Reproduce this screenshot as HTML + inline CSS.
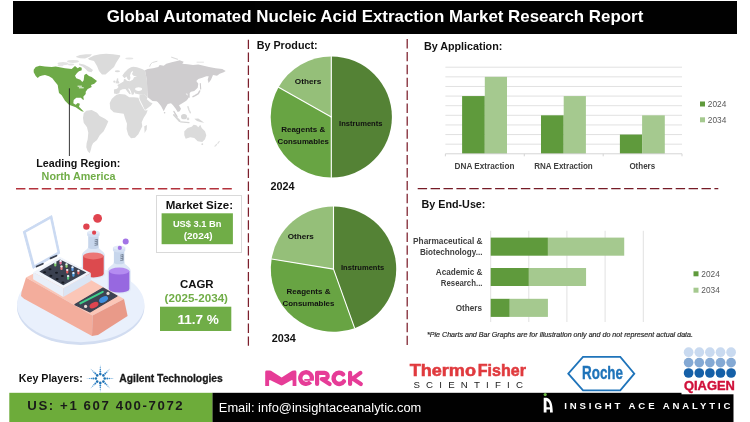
<!DOCTYPE html>
<html><head><meta charset="utf-8">
<style>
html,body{margin:0;padding:0;background:#fff;}
body{width:750px;height:422px;overflow:hidden;font-family:"Liberation Sans",sans-serif;}
svg{display:block;will-change:transform;opacity:0.999}
text{font-family:"Liberation Sans",sans-serif;}
.b{font-weight:700}
.g{fill:#70ad47}
.lbl{font-size:8.3px;font-weight:700;fill:#404040}
.pl{font-size:7.6px;font-weight:700;fill:#111}
</style></head><body>
<svg width="750" height="422" viewBox="0 0 750 422">
<!-- HEADER -->
<rect x="13" y="1" width="724" height="33" fill="#000"/>
<text x="375" y="22.1" text-anchor="middle" class="b" font-size="16.9" fill="#fff">Global Automated Nucleic Acid Extraction Market Research Report</text>

<!-- DASHED SEPARATORS -->
<g fill="none" stroke-dasharray="9.4 3.5">
<line x1="248.4" y1="39.7" x2="248.4" y2="345.8" stroke="#7d1f2c" stroke-width="1.25"/>
<line x1="407.2" y1="39" x2="407.2" y2="345.3" stroke="#7d1f2c" stroke-width="1.25"/>
<line x1="16" y1="188.8" x2="232.1" y2="188.8" stroke="#b3323c" stroke-width="1.6"/>
<line x1="417.7" y1="188.6" x2="718.3" y2="188.6" stroke="#761b26" stroke-width="1.35"/>
</g>

<!-- MAP -->
<g id="map">
<g stroke-linejoin="round">
<ellipse cx="63" cy="63.6" rx="5.5" ry="1.7" fill="#e3e3e3"/>
<ellipse cx="73" cy="61.4" rx="6" ry="1.5" fill="#e3e3e3"/>
<ellipse cx="60.5" cy="65.4" rx="3" ry="0.9" fill="#e6e6e6"/>
<ellipse cx="71" cy="64.6" rx="3.2" ry="1" fill="#e3e3e3"/>
<path d="M79 63.5L84 64.5L89 67L93 70L91.5 72.3L88 71.5L85.5 69L82.5 66.5L79 65Z" fill="#dddddd"/>
<path d="M76 56.5L80 55L86 54.3L92 54.2L90 56.5L85 58.5L80 58.3L76.5 57.3Z" fill="#dedede"/>
<path d="M88 58.5L94 55.5L100 54.3L106 53.8L113 54.2L120 55.2L120.3 56.2L116 63L114 67L110 70.5L105.5 74.5L102 74.5L99 71L97 66L94 61L89 59.8Z" fill="#dbdbdb"/>
<ellipse cx="117.4" cy="71.3" rx="2.6" ry="1" fill="#dbdbdb"/>
<ellipse cx="129.3" cy="58.5" rx="4" ry="0.9" fill="#e6e6e6"/>
<path d="M115.5 83.2L116.5 80.5L117 78.2L118.3 78.5L118.2 80.5L119.4 82.5L118.8 83.5Z" fill="#dbdbdb" />
<ellipse cx="114.4" cy="81.6" rx="1.1" ry="1.2" fill="#dbdbdb"/>
<path d="M122.3 75.7L124.5 72.5L128 69L131 67.2L133.2 66.8L137 67.3L142 68.9L145 70.5L146.9 80.1L147.3 90.5L147.5 97.3L143.6 94L139.6 94.4L135 93.4L134.8 91.8L133.5 94.5L131.8 94.8L131 91.5L129.5 88.8L128 88.5L129.8 91.5L130.8 94L129.6 94.3L127.3 91.5L125.5 89L122.5 89.2L120 90.5L119.3 93.2L116.5 94L114 93.5L113.9 89.5L117 88.8L118.5 87L117.3 85L121 83L123.5 81.5L124 79L125.5 79.3L127 80.8L130 81.3L133 79.5L134 77.2L137 76.5L133.5 75.8L132 74L133 71.8L132.5 71L131 72.5L130 75.5L130.5 78L129.3 80.8L127.5 79L126.5 76.5L124.5 78.3Z" fill="#dbdbdb" />
<ellipse cx="138.6" cy="89.1" rx="3.5" ry="1.8" fill="#fff"/>
<path d="M147.5 97.3L146.8 99.2L150.1 102.3L152.5 103.3L151 105.5L145.5 109.8L144.6 109.5L142.5 105L140.5 101L139.4 98.5L139.6 94.4L143.6 94Z" fill="#dbdbdb" />
<path d="M114.3 96.5L116.5 94.8L119.5 94.1L125.1 94.5L129.2 97.3L134 97.3L138.4 97.7L139.5 101L141.5 105L143.5 108.5L144.8 110.5L147.7 110.3L146.3 113.7L143.7 117.7L141.7 122.3L142.3 126.3L140.3 130.3L138.3 134.3L135 137.7L131 138.3L128.3 135L126.6 129L127 123.7L125 118.3L123.7 113.7L118.3 113L113.7 112.3L110.3 109L109.7 103L111.7 99Z" fill="#dbdbdb" />
<path d="M144.3 126.3L147 125L146.6 129.7L144.6 133Z" fill="#dbdbdb" />
<path d="M83.7 113.3L86.3 110.7L91.7 110L97 112.7L99.7 116L105 118.7L108.3 121.3L106.3 126L103.7 131.3L99.7 135.3L97 140L93 143.3L91.7 146L91 149.3L89.7 153.3L87.7 151.3L86.3 147.3L86.6 143.3L87.7 139.3L88.3 132.7L87 127.3L83.7 122.7L83 118Z" fill="#dbdbdb" />
<path d="M145 70.3L147.7 69L153 68.3L158.3 67L159.7 65L163.7 65.7L166.3 63.7L171.7 62.3L177 61L179.7 60.3L183.7 61.7L182.3 63.7L187.7 64.3L193 65L198.3 64.5L203.7 65.7L209 67L215.7 68.3L222.3 69L225.7 71L223.7 72.3L219.7 73.7L217 75.7L213 75L211 79.7L208.6 83L207.7 79.7L208.7 76.3L206.3 76.3L202.3 77.7L198.3 79L196.3 81L198.3 83.7L197.7 87.7L194.3 91L191 91.7L189.7 93L189.7 97.7L187.7 97.7L187.4 93.7L185.7 93.5L187.7 96L188.3 98.5L186.3 100.7L182.3 103.3L179 105.3L181 108.7L179.7 111.3L177.7 112L175.7 108.7L173 105.3L171 103.3L167.7 104L165.7 107.3L163.7 111.3L161 106L157.7 102L156.5 101.3L152.5 100.9L147.7 97.3L147.3 90.5L146.9 80.1Z" fill="#cfcdcf" />
<g fill="none" stroke="#cfcdcf" stroke-linecap="round">
<path d="M200.3 83.5L200.7 89" stroke-width="1.1"/>
<path d="M199.7 91L198.3 93.7L195 95.7L193 96.7" stroke-width="1.5"/>
<path d="M149.7 66.3Q150.2 63.5 152.5 62.5L157 61.3" stroke-width="1" stroke="#dcdcdc"/>
<path d="M171.7 57.2L177.5 59.2" stroke-width="1.2" stroke="#dcdcdc"/>
<path d="M197 62.2H203.5" stroke-width="0.9" stroke="#e2e2e2"/>
<path d="M173.9 111.5L177 116.7" stroke-width="1.4"/>
<path d="M173.9 114.9L179.6 121" stroke-width="1.9" stroke="#d6d6d6"/>
<path d="M180.6 121.8L189 122.7" stroke-width="1.2" stroke="#d6d6d6"/>
<path d="M188 106.7L189 110L190.3 112.7" stroke-width="1.5" stroke="#dedede"/>
</g>
<ellipse cx="184" cy="116.7" rx="3" ry="2.6" fill="#d6d6d6"/>
<circle cx="188" cy="118.9" r="1.3" fill="#dcdcdc"/>
<circle cx="164.6" cy="112.7" r="0.8" fill="#cfcdcf"/>
<path d="M194.3 118.7L198.3 118.5L204.3 122.7L201 122.2L197 120.9Z" fill="#d8d8d8" />
<path d="M184.3 131.3L187.7 128L191.7 126.7L193.7 124.7L196.3 125.3L198.3 127.3L200.3 124.7L201.7 128L205 131.3L206.3 135.3L205 139.3L202.3 142L197.7 141.3L194.3 138L190.3 137.3L185.7 138.7L184.3 135.3Z" fill="#dbdbdb" />
<circle cx="202.3" cy="144.2" r="0.9" fill="#dbdbdb"/>
<path d="M219.2 141.5L217.8 143.3M216.6 144.5L215 146.2" stroke="#e0e0e0" stroke-width="1.2" stroke-linecap="round"/>
<path d="M33.7 69.7L35.7 67L39.7 65.7L45 66.6L51.7 67L55.7 66.6L65 68.3L71.7 69L75 66.1L77.7 68.3L79.7 67L81.7 67.7L81.7 70.3L79 71.3L77 73L75 75.7L76.3 78.3L80.3 79.7L82.3 81.9L83.7 80.3L84.3 75L86.3 73.7L89 75.9L91.7 77L94.3 79L97 81L94.3 83.7L91 85L91.7 87L87.7 89L85.7 91.7L85.7 94L83.3 96.7L83.9 100L82.3 99.3L81 97.7L76.3 97.7L73.7 100L73.3 103.3L75.7 104.7L77.7 103.1L79.9 103.7L79 106.7L81 108.7L83.9 111.7L81.7 111.3L79.7 110L75.7 107.3L71.7 105.7L69 104.7L65 100.7L61.7 95.3L59 93L58.3 89L57.7 85L55 81.7L52.3 78.3L49 76.3L45 75L42.3 75.4L39.7 76.3L37.7 77.9L35.7 75.9L33.7 72.3Z" fill="#6eaa48" />
<path d="M78 86.2H81.5M79.3 87.8H83.3" stroke="#fff" stroke-width="0.9" stroke-linecap="round"/>
</g>
</g>
<line x1="69.4" y1="88.3" x2="69.4" y2="156" stroke="#222" stroke-width="0.9"/>
<text x="36.3" y="166.7" class="b" font-size="10.7" fill="#111" textLength="84" lengthAdjust="spacingAndGlyphs">Leading Region:</text>
<text x="41.6" y="179.6" class="b g" font-size="10.7" textLength="73.9" lengthAdjust="spacingAndGlyphs">North America</text>

<!-- LAB ILLUSTRATION -->
<g id="lab">
<ellipse cx="80.7" cy="307" rx="63.7" ry="38" fill="#d2ddf1"/>
<ellipse cx="80.7" cy="304.6" rx="63.7" ry="37.6" fill="#e9f0fc"/>
<path d="M88.2 246.5C88.2 250.5 81.8 250.5 81.8 256V274.5A11.6 4 0 0 0 105.0 274.5V256C105.0 250.5 98.6 250.5 98.6 246.5Z" fill="#dde7f6"/>
<path d="M83.1 255.9V273.8A10.3 3.6 0 0 0 103.7 273.8V255.9Z" fill="#dc4a4e"/>
<ellipse cx="93.4" cy="255.9" rx="10.3" ry="3.5" fill="#ec7676"/>
<path d="M88.2 234V247.3A5.2 1.8 0 0 0 98.6 247.3V234Z" fill="#c7d6ec"/>
<path d="M87.2 232.4V235.2A6.2 2 0 0 0 99.6 235.2V232.4Z" fill="#d3dff2"/>
<ellipse cx="93.4" cy="232.4" rx="6.2" ry="2" fill="#e3ebf8"/>
<path d="M94.6 240l2.6 -0.6M94.6 241.8l2.6 -0.6M94.6 243.6l2.6 -0.6M94.6 245.4l2.6 -0.6M97.3 239v6.4" stroke="#4a5568" stroke-width="0.6" fill="none"/>
<circle cx="94.1" cy="232.7" r="2.1" fill="#e0444f"/>
<path d="M113.9 261.7C113.9 265.7 107.5 265.7 107.5 271.2V289.7A11.6 4 0 0 0 130.7 289.7V271.2C130.7 265.7 124.3 265.7 124.3 261.7Z" fill="#dde7f6"/>
<path d="M108.8 271.1V289.0A10.3 3.6 0 0 0 129.4 289.0V271.1Z" fill="#9768e0"/>
<ellipse cx="119.1" cy="271.1" rx="10.3" ry="3.5" fill="#b48cf1"/>
<path d="M113.9 249.2V262.5A5.2 1.8 0 0 0 124.3 262.5V249.2Z" fill="#c7d6ec"/>
<path d="M112.9 247.6V250.4A6.2 2 0 0 0 125.3 250.4V247.6Z" fill="#d3dff2"/>
<ellipse cx="119.1" cy="247.6" rx="6.2" ry="2" fill="#e3ebf8"/>
<path d="M120.3 255.2l2.6 -0.6M120.3 257.0l2.6 -0.6M120.3 258.8l2.6 -0.6M120.3 260.6l2.6 -0.6M123.0 254.2v6.4" stroke="#4a5568" stroke-width="0.6" fill="none"/>
<circle cx="119.8" cy="247.9" r="2.1" fill="#a374e6"/>
<circle cx="97.6" cy="218.3" r="4.4" fill="#e0444f"/><circle cx="86.4" cy="226.6" r="3.2" fill="#e0444f"/>
<circle cx="125.7" cy="241.5" r="3" fill="#a374e6"/>
<path d="M26 277.5L57.5 261L124 299L92.5 315.5Z" fill="#fbc6b7" />
<path d="M26 277.5L92.5 315.5L92 336L24 298.8L21 296L21.5 292Z" fill="#f3ad9c" />
<path d="M92.5 315.5L124 299L127.6 316L98 335L92 336Z" fill="#e99a89" />
<path d="M33.1 272.2L63.3 288.2L63.3 297.1L33.1 279.3Z" fill="#e9eff9" />
<path d="M63.3 288.2L90.8 273.1L90.8 281.1L63.3 297.1Z" fill="#dbe5f4" />
<path d="M33.1 272.2L59.8 256.8L90.8 273.1L63.3 288.2Z" fill="#f0f4fb" />
<path d="M39.3 271.6L60 259.6L86.4 272.6L63.3 285.3Z" fill="#3b4150" />
<ellipse cx="44.6" cy="272.2" rx="1.5" ry="1" fill="#15181f"/>
<ellipse cx="50" cy="269.2" rx="1.5" ry="1" fill="#15181f"/>
<ellipse cx="50.9" cy="275.8" rx="1.5" ry="1" fill="#15181f"/>
<ellipse cx="56.5" cy="272.7" rx="1.5" ry="1" fill="#15181f"/>
<ellipse cx="57.1" cy="279" rx="1.5" ry="1" fill="#15181f"/>
<ellipse cx="62.4" cy="276.1" rx="1.5" ry="1" fill="#15181f"/>
<ellipse cx="62.9" cy="282.5" rx="1.5" ry="1" fill="#15181f"/>
<rect x="54.199999999999996" y="262.0" width="2.2" height="4.4" rx="1" fill="#7fcf6a"/><rect x="54.199999999999996" y="261.8" width="2.2" height="2" rx="0.8" fill="#e6edf7"/>
<rect x="59.5" y="260.2" width="2.2" height="4.4" rx="1" fill="#e8719a"/><rect x="59.5" y="260.0" width="2.2" height="2" rx="0.8" fill="#e6edf7"/>
<rect x="65.4" y="263.40000000000003" width="2.2" height="4.4" rx="1" fill="#8ecf6a"/><rect x="65.4" y="263.20000000000005" width="2.2" height="2" rx="0.8" fill="#e6edf7"/>
<rect x="60.4" y="265.6" width="2.2" height="4.4" rx="1" fill="#ee7b7b"/><rect x="60.4" y="265.40000000000003" width="2.2" height="2" rx="0.8" fill="#e6edf7"/>
<rect x="71.4" y="266.5" width="2.2" height="4.4" rx="1" fill="#5b9be6"/><rect x="71.4" y="266.3" width="2.2" height="2" rx="0.8" fill="#e6edf7"/>
<rect x="66.10000000000001" y="269.1" width="2.2" height="4.4" rx="1" fill="#e55d5d"/><rect x="66.10000000000001" y="268.90000000000003" width="2.2" height="2" rx="0.8" fill="#e6edf7"/>
<rect x="77.30000000000001" y="270.0" width="2.2" height="4.4" rx="1" fill="#e55d5d"/><rect x="77.30000000000001" y="269.8" width="2.2" height="2" rx="0.8" fill="#e6edf7"/>
<rect x="72.30000000000001" y="272.3" width="2.2" height="4.4" rx="1" fill="#4f9fe0"/><rect x="72.30000000000001" y="272.1" width="2.2" height="2" rx="0.8" fill="#e6edf7"/>
<rect x="67.0" y="275.3" width="2.2" height="4.4" rx="1" fill="#58c77a"/><rect x="67.0" y="275.1" width="2.2" height="2" rx="0.8" fill="#e6edf7"/>
<path d="M23.3 231.6L51.7 215.6L59.7 253.3L33.1 268.4Z" fill="#cbdaf2" stroke="#cbdaf2" stroke-width="1" stroke-linejoin="round"/>
<path d="M25.9 232.6L50.2 218.9L57.4 252.1L34.6 265.1Z" fill="#ffffff" />
<path d="M36.6 266.6L42.9 263.7M50.5 258.4L56.5 255.7" stroke="#3b4150" stroke-width="1.7" stroke-linecap="round"/>
<path d="M75 304.6L103 288L117 296L90 312Z" fill="#3d4352" stroke="#3d4352" stroke-width="1.2" stroke-linejoin="round"/>
<path d="M80.3 303.4L102.8 291.8" stroke="#3fd08a" stroke-width="1.9" stroke-linecap="round"/>
<ellipse cx="94" cy="305.1" rx="4.8" ry="2.7" fill="#e0444f" transform="rotate(-27 94 305.1)"/>
<ellipse cx="103.6" cy="299.5" rx="4.8" ry="2.7" fill="#3f8fe0" transform="rotate(-27 103.6 299.5)"/>
<circle cx="85.6" cy="306.4" r="1.6" fill="#e8dcd6"/><circle cx="108" cy="293.4" r="1.6" fill="#e8dcd6"/>
</g>

<!-- MARKET SIZE -->
<rect x="156.5" y="195.5" width="85" height="57" fill="#fff" stroke="#d9d9d9" stroke-width="1"/>
<text x="165.7" y="208.6" class="b" font-size="11.6" fill="#111" textLength="67.3" lengthAdjust="spacingAndGlyphs">Market Size:</text>
<rect x="161.6" y="213.3" width="71.3" height="30.9" fill="#70ad47"/>
<text x="197.2" y="226.5" text-anchor="middle" class="b" font-size="9.4" fill="#fff" textLength="48.6" lengthAdjust="spacingAndGlyphs">US$ 3.1 Bn</text>
<text x="198.2" y="239.3" text-anchor="middle" class="b" font-size="9.4" fill="#fff" textLength="29" lengthAdjust="spacingAndGlyphs">(2024)</text>

<!-- CAGR -->
<text x="179.9" y="287.9" class="b" font-size="11.5" fill="#111" textLength="33.7" lengthAdjust="spacingAndGlyphs">CAGR</text>
<text x="164.6" y="302.3" class="b g" font-size="11.4" textLength="63.4" lengthAdjust="spacingAndGlyphs">(2025-2034)</text>
<rect x="160" y="306.7" width="71.3" height="24.3" fill="#70ad47"/>
<text x="177.4" y="323.9" class="b" font-size="13" fill="#fff" textLength="41.4" lengthAdjust="spacingAndGlyphs">11.7 %</text>

<!-- PIES -->
<g id="pies">
<path d="M331.3 117L331.30 56.40A60.6 60.6 0 0 1 331.30 177.60Z" fill="#548235"/>
<path d="M331.3 117L331.30 177.60A60.6 60.6 0 0 1 278.56 87.16Z" fill="#68a443"/>
<path d="M331.3 117L278.56 87.16A60.6 60.6 0 0 1 331.30 56.40Z" fill="#95bf79"/>
<g stroke="#fff" stroke-width="1.1" stroke-linecap="round">
<line x1="331.3" y1="117" x2="331.30" y2="56.40"/>
<line x1="331.3" y1="117" x2="331.30" y2="177.60"/>
<line x1="331.3" y1="117" x2="278.56" y2="87.16"/>
</g>
<text class="pl" x="308.1" y="83.6" text-anchor="middle" textLength="26.5" lengthAdjust="spacingAndGlyphs">Others</text>
<text class="pl" x="360.8" y="125.5" text-anchor="middle" textLength="43.4" lengthAdjust="spacingAndGlyphs">Instruments</text>
<text class="pl" x="303.2" y="132.3" text-anchor="middle" textLength="44" lengthAdjust="spacingAndGlyphs">Reagents &amp;</text>
<text class="pl" x="303.2" y="144" text-anchor="middle" textLength="51.4" lengthAdjust="spacingAndGlyphs">Consumables</text>
<text x="270.4" y="190.2" class="b" font-size="10.8" fill="#111">2024</text>
<path d="M333.5 269.1L333.50 206.40A62.7 62.7 0 0 1 354.64 328.13Z" fill="#548235"/>
<path d="M333.5 269.1L354.64 328.13A62.7 62.7 0 0 1 271.61 259.08Z" fill="#68a443"/>
<path d="M333.5 269.1L271.61 259.08A62.7 62.7 0 0 1 333.50 206.40Z" fill="#95bf79"/>
<g stroke="#fff" stroke-width="1.1" stroke-linecap="round">
<line x1="333.5" y1="269.1" x2="333.50" y2="206.40"/>
<line x1="333.5" y1="269.1" x2="354.64" y2="328.13"/>
<line x1="333.5" y1="269.1" x2="271.61" y2="259.08"/>
</g>
<text class="pl" x="300.8" y="238.6" text-anchor="middle" textLength="26.2" lengthAdjust="spacingAndGlyphs">Others</text>
<text class="pl" x="362.6" y="270.3" text-anchor="middle" textLength="43.2" lengthAdjust="spacingAndGlyphs">Instruments</text>
<text class="pl" x="308.5" y="293.7" text-anchor="middle" textLength="43.8" lengthAdjust="spacingAndGlyphs">Reagents &amp;</text>
<text class="pl" x="308.5" y="305.5" text-anchor="middle" textLength="51.8" lengthAdjust="spacingAndGlyphs">Consumables</text>
<text x="271.7" y="341.7" class="b" font-size="10.8" fill="#111">2034</text>
</g>

<!-- BAR CHARTS -->
<g id="bars">
<text x="256.7" y="48.5" class="b" font-size="10.75" fill="#111">By Product:</text>
<text x="423.9" y="49.6" class="b" font-size="10.75" fill="#111">By Application:</text>
<text x="421.5" y="208.4" class="b" font-size="10.75" fill="#111">By End-Use:</text>
<g stroke="#d9d9d9" stroke-width="0.8">
<line x1="445.4" y1="144.18" x2="682" y2="144.18"/>
<line x1="445.4" y1="134.56" x2="682" y2="134.56"/>
<line x1="445.4" y1="124.94" x2="682" y2="124.94"/>
<line x1="445.4" y1="115.32" x2="682" y2="115.32"/>
<line x1="445.4" y1="105.70" x2="682" y2="105.70"/>
<line x1="445.4" y1="96.08" x2="682" y2="96.08"/>
<line x1="445.4" y1="86.46" x2="682" y2="86.46"/>
<line x1="445.4" y1="76.84" x2="682" y2="76.84"/>
<line x1="445.4" y1="67.22" x2="682" y2="67.22"/>
</g>
<rect x="462.1" y="96.08" width="22.70" height="57.72" fill="#5f9a3c"/>
<rect x="484.8" y="76.84" width="22.20" height="76.96" fill="#a5c98f"/>
<rect x="541" y="115.32" width="22.70" height="38.48" fill="#5f9a3c"/>
<rect x="563.7" y="96.08" width="22.20" height="57.72" fill="#a5c98f"/>
<rect x="619.9" y="134.56" width="22.20" height="19.24" fill="#5f9a3c"/>
<rect x="642.1" y="115.32" width="22.70" height="38.48" fill="#a5c98f"/>
<path d="M445.4 153.8H682M445.4 153.8v2.5M524.3 153.8v2.5M603.2 153.8v2.5M682 153.8v2.5" stroke="#d0d0d0" stroke-width="0.9" fill="none"/>
<text class="lbl" x="484.5" y="168.8" text-anchor="middle" textLength="59.8" lengthAdjust="spacingAndGlyphs">DNA Extraction</text>
<text class="lbl" x="563.5" y="168.8" text-anchor="middle" textLength="58.5" lengthAdjust="spacingAndGlyphs">RNA Extraction</text>
<text class="lbl" x="642.3" y="168.8" text-anchor="middle" textLength="25.8" lengthAdjust="spacingAndGlyphs">Others</text>
<rect x="700" y="101.5" width="5" height="5" fill="#5f9a3c"/><rect x="700" y="117.3" width="5" height="5" fill="#a5c98f"/>
<text x="707.8" y="107" font-size="8.3" fill="#595959">2024</text><text x="707.8" y="122.8" font-size="8.3" fill="#595959">2034</text>
<g stroke="#d9d9d9" stroke-width="0.8">
<line x1="490.7" y1="230.8" x2="490.7" y2="322"/>
<line x1="528.8" y1="230.8" x2="528.8" y2="322"/>
<line x1="566.9" y1="230.8" x2="566.9" y2="322"/>
<line x1="605.1" y1="230.8" x2="605.1" y2="322"/>
<line x1="643.3" y1="230.8" x2="643.3" y2="322"/>
</g>
<rect x="490.7" y="237.6" width="57.22" height="18.10" fill="#5f9a3c"/><rect x="547.92" y="237.6" width="76.30" height="18.10" fill="#a5c98f"/>
<rect x="490.7" y="268" width="38.15" height="18.00" fill="#5f9a3c"/><rect x="528.85" y="268" width="57.22" height="18.00" fill="#a5c98f"/>
<rect x="490.7" y="298.8" width="19.07" height="18.10" fill="#5f9a3c"/><rect x="509.77" y="298.8" width="38.15" height="18.10" fill="#a5c98f"/>
<text class="lbl" x="482.5" y="243.8" text-anchor="end" textLength="69.4" lengthAdjust="spacingAndGlyphs">Pharmaceutical &amp;</text>
<text class="lbl" x="482.5" y="254.8" text-anchor="end" textLength="62.6" lengthAdjust="spacingAndGlyphs">Biotechnology...</text>
<text class="lbl" x="482.5" y="274.5" text-anchor="end" textLength="46.7" lengthAdjust="spacingAndGlyphs">Academic &amp;</text>
<text class="lbl" x="482.5" y="285.5" text-anchor="end" textLength="41.7" lengthAdjust="spacingAndGlyphs">Research...</text>
<text class="lbl" x="482.0" y="310.8" text-anchor="end" textLength="26.3" lengthAdjust="spacingAndGlyphs">Others</text>
<rect x="693.5" y="271.3" width="5" height="5" fill="#5f9a3c"/><rect x="693.5" y="287.7" width="5" height="5" fill="#a5c98f"/>
<text x="701.3" y="276.8" font-size="8.3" fill="#595959">2024</text><text x="701.3" y="293.2" font-size="8.3" fill="#595959">2034</text>
<text x="427" y="337" font-size="6.3" font-style="italic" fill="#2a2a2a" stroke="#2a2a2a" stroke-width="0.18" textLength="266" lengthAdjust="spacingAndGlyphs">*Pie Charts and Bar Graphs are for illustration only and do not represent actual data.</text>
</g>

<!-- KEY PLAYERS -->
<g id="players">
<text x="18.8" y="381.9" class="b" font-size="10.66" fill="#111">Key Players:</text>
<g id="spark">
<circle cx="104.70" cy="378.50" r="1.3" fill="#1f72b4"/>
<circle cx="107.30" cy="378.50" r="0.95" fill="#2a7fc4"/>
<circle cx="109.30" cy="378.50" r="0.75" fill="#3d8ccc"/>
<circle cx="111.10" cy="378.50" r="0.6" fill="#5b9fd6"/>
<circle cx="112.60" cy="378.50" r="0.45" fill="#7ab2df"/>
<circle cx="113.70" cy="378.50" r="0.32" fill="#9cc6e8"/>
<circle cx="103.41" cy="381.61" r="1.3" fill="#1f72b4"/>
<circle cx="105.25" cy="383.45" r="0.95" fill="#2a7fc4"/>
<circle cx="106.66" cy="384.86" r="0.75" fill="#3d8ccc"/>
<circle cx="107.94" cy="386.14" r="0.6" fill="#5b9fd6"/>
<circle cx="109.00" cy="387.20" r="0.45" fill="#7ab2df"/>
<circle cx="109.78" cy="387.98" r="0.32" fill="#9cc6e8"/>
<circle cx="100.30" cy="382.90" r="1.3" fill="#1f72b4"/>
<circle cx="100.30" cy="385.50" r="0.95" fill="#2a7fc4"/>
<circle cx="100.30" cy="387.50" r="0.75" fill="#3d8ccc"/>
<circle cx="100.30" cy="389.30" r="0.6" fill="#5b9fd6"/>
<circle cx="100.30" cy="390.80" r="0.45" fill="#7ab2df"/>
<circle cx="100.30" cy="391.90" r="0.32" fill="#9cc6e8"/>
<circle cx="97.19" cy="381.61" r="1.3" fill="#1f72b4"/>
<circle cx="95.35" cy="383.45" r="0.95" fill="#2a7fc4"/>
<circle cx="93.94" cy="384.86" r="0.75" fill="#3d8ccc"/>
<circle cx="92.66" cy="386.14" r="0.6" fill="#5b9fd6"/>
<circle cx="91.60" cy="387.20" r="0.45" fill="#7ab2df"/>
<circle cx="90.82" cy="387.98" r="0.32" fill="#9cc6e8"/>
<circle cx="95.90" cy="378.50" r="1.3" fill="#1f72b4"/>
<circle cx="93.30" cy="378.50" r="0.95" fill="#2a7fc4"/>
<circle cx="91.30" cy="378.50" r="0.75" fill="#3d8ccc"/>
<circle cx="89.50" cy="378.50" r="0.6" fill="#5b9fd6"/>
<circle cx="88.00" cy="378.50" r="0.45" fill="#7ab2df"/>
<circle cx="86.90" cy="378.50" r="0.32" fill="#9cc6e8"/>
<circle cx="97.19" cy="375.39" r="1.3" fill="#1f72b4"/>
<circle cx="95.35" cy="373.55" r="0.95" fill="#2a7fc4"/>
<circle cx="93.94" cy="372.14" r="0.75" fill="#3d8ccc"/>
<circle cx="92.66" cy="370.86" r="0.6" fill="#5b9fd6"/>
<circle cx="91.60" cy="369.80" r="0.45" fill="#7ab2df"/>
<circle cx="90.82" cy="369.02" r="0.32" fill="#9cc6e8"/>
<circle cx="100.30" cy="374.10" r="1.3" fill="#1f72b4"/>
<circle cx="100.30" cy="371.50" r="0.95" fill="#2a7fc4"/>
<circle cx="100.30" cy="369.50" r="0.75" fill="#3d8ccc"/>
<circle cx="100.30" cy="367.70" r="0.6" fill="#5b9fd6"/>
<circle cx="100.30" cy="366.20" r="0.45" fill="#7ab2df"/>
<circle cx="100.30" cy="365.10" r="0.32" fill="#9cc6e8"/>
<circle cx="103.41" cy="375.39" r="1.3" fill="#1f72b4"/>
<circle cx="105.25" cy="373.55" r="0.95" fill="#2a7fc4"/>
<circle cx="106.66" cy="372.14" r="0.75" fill="#3d8ccc"/>
<circle cx="107.94" cy="370.86" r="0.6" fill="#5b9fd6"/>
<circle cx="109.00" cy="369.80" r="0.45" fill="#7ab2df"/>
<circle cx="109.78" cy="369.02" r="0.32" fill="#9cc6e8"/>
</g>
<text x="119.3" y="382.4" class="b" font-size="11" fill="#1a1a1a" stroke="#1a1a1a" stroke-width="0.3" textLength="103.5" lengthAdjust="spacingAndGlyphs">Agilent Technologies</text>
<g id="merck" fill="none" stroke="#e63c97" stroke-linejoin="round" stroke-linecap="round">
<path fill="#e63c97" stroke="none" d="M265.2 386V372Q265.2 370.6 266.8 370.6H269.5Q271 370.6 272.5 371.8L281.6 377.6L291 371.6Q292.3 370.6 294 370.6H295Q296.4 370.6 296.4 372V386H292.6V381Q292.6 379.5 291.4 380.3L283 385Q281.6 385.8 280.2 385L270.5 380.2Q269.1 379.5 269.1 381V386Z"/>
<path stroke-width="4.3" stroke-linecap="butt" d="M310.47 381.87A5.8 5.8 0 1 1 311.7 379.5"/>
<path stroke-width="1.7" stroke-linecap="butt" d="M304.3 379.9H313.8"/>
<path stroke-width="4.2" d="M317.1 372.8V384M317.1 372.8H324.6A3.1 3.1 0 0 1 324.6 379H321.8L329.6 384"/>
<path stroke-width="4.5" d="M343.09 374.27A5.6 5.6 0 1 0 343.90 381.35"/>
<path stroke-width="4.2" d="M350.1 372.8V384M360.4 372.9L352.6 378.6L360.8 384"/>
</g>
<text x="409.7" y="375.5" class="b" font-size="16.6" fill="#e03a3e" stroke="#e03a3e" stroke-width="0.55" textLength="66.3" lengthAdjust="spacingAndGlyphs">Thermo</text>
<text x="477.8" y="375.5" class="b" font-size="16.6" fill="#e03a3e" stroke="#e03a3e" stroke-width="0.55" textLength="48.2" lengthAdjust="spacingAndGlyphs">Fisher</text>
<text x="413.4" y="387.7" font-size="9.7" fill="#222" letter-spacing="6.2">SCIENTIFIC</text>
<path d="M568.3 373.7L583 356.9H620.3L634.3 373.7L620.3 390.4H583Z" fill="#fff" stroke="#1f74ba" stroke-width="1.8" stroke-linejoin="miter"/>
<text x="582" y="379.3" class="b" font-size="18.2" fill="#1f74ba" stroke="#1f74ba" stroke-width="0.4" textLength="41" lengthAdjust="spacingAndGlyphs">Roche</text>
</g>

<!-- FOOTER -->
<g id="footer">
<rect x="9.3" y="392.8" width="203.3" height="29.2" fill="#6dac3a"/>
<rect x="212.5" y="392.8" width="521" height="29.2" fill="#000"/>
<text x="27.3" y="410.3" class="b" font-size="13.2" fill="#1a1a1a" textLength="155.4" lengthAdjust="spacing">US: +1 607 400-7072</text>
<text x="218.8" y="412" font-size="12.3" fill="#fff" textLength="202.5" lengthAdjust="spacingAndGlyphs">Email: info@insightaceanalytic.com</text>
<circle cx="545.2" cy="394.6" r="1.6" fill="#6dbb45"/>
<path fill-rule="evenodd" fill="#fff" d="M543.7 412.6V397.8H546.6C550.4 398.6 552.8 403 552.8 412.6H550V409.4H546.5V412.6ZM546.5 407.3H550C549.8 404 548.6 401.6 546.5 400.8Z"/>
<text x="564.2" y="408.7" class="b" font-size="9.6" fill="#fff" textLength="166.3" lengthAdjust="spacing">INSIGHT ACE ANALYTIC</text>
<rect x="681.5" y="345" width="68.5" height="49.3" fill="#fff"/>
<circle cx="688.6" cy="352.2" r="4.85" fill="#c9daf0"/>
<circle cx="699.3" cy="352.2" r="4.85" fill="#c9daf0"/>
<circle cx="709.9" cy="352.2" r="4.85" fill="#c9daf0"/>
<circle cx="720.5" cy="352.2" r="4.85" fill="#c9daf0"/>
<circle cx="731.1" cy="352.2" r="4.85" fill="#c9daf0"/>
<circle cx="688.6" cy="362.6" r="4.85" fill="#84a9d4"/>
<circle cx="699.3" cy="362.6" r="4.85" fill="#84a9d4"/>
<circle cx="709.9" cy="362.6" r="4.85" fill="#84a9d4"/>
<circle cx="720.5" cy="362.6" r="4.85" fill="#84a9d4"/>
<circle cx="731.1" cy="362.6" r="4.85" fill="#84a9d4"/>
<circle cx="688.6" cy="373" r="4.85" fill="#1560a8"/>
<circle cx="699.3" cy="373" r="4.85" fill="#1560a8"/>
<circle cx="709.9" cy="373" r="4.85" fill="#1560a8"/>
<circle cx="720.5" cy="373" r="4.85" fill="#1560a8"/>
<circle cx="731.1" cy="373" r="4.85" fill="#1560a8"/>
<text x="684" y="390.3" class="b" font-size="13" fill="#d0103a" stroke="#d0103a" stroke-width="0.4" textLength="50.9" lengthAdjust="spacingAndGlyphs">QIAGEN</text>
</g>
</svg>
</body></html>
